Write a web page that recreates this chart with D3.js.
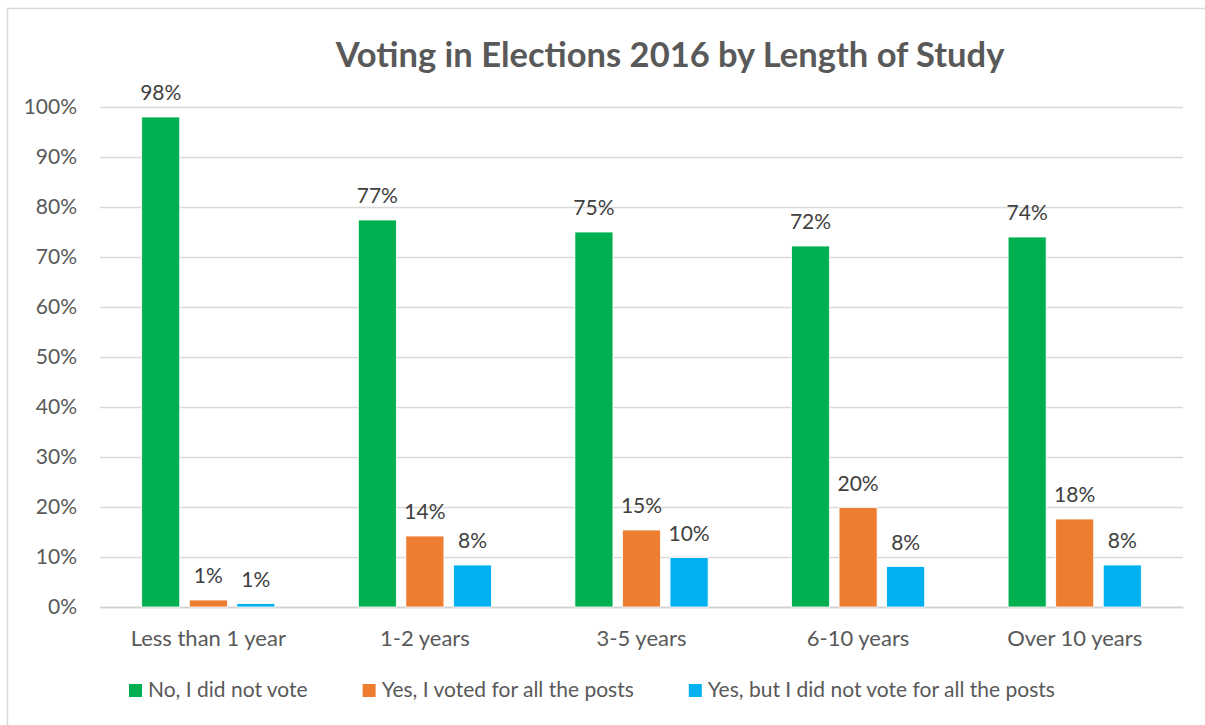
<!DOCTYPE html>
<html>
<head>
<meta charset="utf-8">
<script src="https://cdn.jsdelivr.net/npm/d3@7"></script>
<style>
  body { margin: 0; background: #fff; }
  text { font-family: Lato, "Open Sans", sans-serif; }
</style>
</head>
<body>
<script>
// Données
const categories = ['Less than 1 year', '1-2 years', '3-5 years', '6-10 years', 'Over 10 years'];
const seriesNames = ['No, I did not vote', 'Yes, I voted for all the posts', 'Yes, but I did not vote for all the posts'];
const noVote = [98, 77.4, 75, 72.2, 74];
const votedAll = [1.4, 14.2, 15.4, 19.9, 17.6];
const votedSome = [0.7, 8.4, 9.9, 8.1, 8.4];
const colors = ['#00b050', '#ed7d31', '#00b0f0'];
const yTicks = [0, 10, 20, 30, 40, 50, 60, 70, 80, 90, 100];

const W = 1205, H = 725;
const margin = { top: 107, right: 22, bottom: 118, left: 100 };
const width = W - margin.left - margin.right,
    height = H - margin.top - margin.bottom;
const fs = 21;

const svg = d3.select('body')
    .append('svg')
    .attr('width', W)
    .attr('height', H);

// Cadre du graphique
svg.append('rect')
    .attr('x', 7.5).attr('y', 8.5)
    .attr('width', 1210).attr('height', 730)
    .attr('fill', 'none')
    .attr('stroke', '#d9d9d9')
    .attr('stroke-width', 1.5);

svg.append('text')
    .attr('x', 670)
    .attr('y', 67)
    .attr('text-anchor', 'middle')
    .attr('font-size', 34.5)
    .attr('font-weight', 'bold')
    .attr('fill', '#595959')
    .text('Voting in Elections 2016 by Length of Study');

const g = svg.append('g')
    .attr('transform', `translate(${margin.left}, ${margin.top})`);

const x0 = d3.scaleBand()
    .domain(categories)
    .range([0, width])
    .paddingInner(0.385)
    .paddingOuter(0.1925);

const x1 = d3.scaleBand()
    .domain(d3.range(3))
    .range([0, x0.bandwidth()])
    .paddingInner(0.2);

const y = d3.scaleLinear()
    .domain([0, 100])
    .range([height, 0]);

// Grille et axe Y
g.append('g')
    .call(d3.axisLeft(y).tickValues(yTicks).tickSize(-width).tickPadding(23).tickFormat(d => d + '%'))
    .call(a => a.select('.domain').remove())
    .call(a => a.selectAll('.tick line').attr('stroke', '#d9d9d9').attr('stroke-width', 1.3))
    .call(a => a.selectAll('.tick text').attr('fill', '#595959').attr('font-size', fs)
        .style('font-family', 'Lato, sans-serif'));

// Axe X
g.append('g')
    .attr('transform', `translate(0, ${height})`)
    .call(d3.axisBottom(x0).tickSize(0).tickPadding(23))
    .call(a => a.select('.domain').attr('stroke', '#d0d0d0').attr('stroke-width', 1.5))
    .call(a => a.selectAll('.tick text').attr('fill', '#595959').attr('font-size', 22)
        .style('font-family', 'Lato, sans-serif'));

const rows = categories.map((c, i) => ({
    cat: c,
    vals: [noVote[i], votedAll[i], votedSome[i]]
}));

const groups = g.append('g')
    .selectAll('g')
    .data(rows)
    .join('g')
    .attr('transform', d => `translate(${x0(d.cat)}, 0)`);

groups.selectAll('rect')
    .data(d => d.vals.map((v, k) => ({ v, k })))
    .join('rect')
    .attr('x', d => x1(d.k))
    .attr('y', d => y(d.v))
    .attr('width', x1.bandwidth())
    .attr('height', d => height - y(d.v))
    .attr('fill', d => colors[d.k])
    .attr('stroke', '#fff')
    .attr('stroke-width', 0.8);

groups.selectAll('text.lbl')
    .data(d => d.vals.map((v, k) => ({ v, k })))
    .join('text')
    .attr('class', 'lbl')
    .attr('x', d => x1(d.k) + x1.bandwidth() / 2)
    .attr('y', d => y(d.v) - 17)
    .attr('text-anchor', 'middle')
    .attr('font-size', fs)
    .attr('fill', '#404040')
    .text(d => Math.round(d.v) + '%');

// Légende
const legend = svg.append('g').attr('transform', 'translate(129, 697)');
let lx = 0;
seriesNames.forEach((name, k) => {
    const item = legend.append('g').attr('transform', `translate(${lx}, 0)`);
    item.append('rect')
        .attr('x', 0).attr('y', -13)
        .attr('width', 13).attr('height', 13)
        .attr('fill', colors[k]);
    const t = item.append('text')
        .attr('x', 19).attr('y', 0)
        .attr('font-size', 21)
        .attr('fill', '#595959')
        .text(name);
    lx += 19 + t.node().getComputedTextLength() + 55;
});
</script>
</body>
</html>
